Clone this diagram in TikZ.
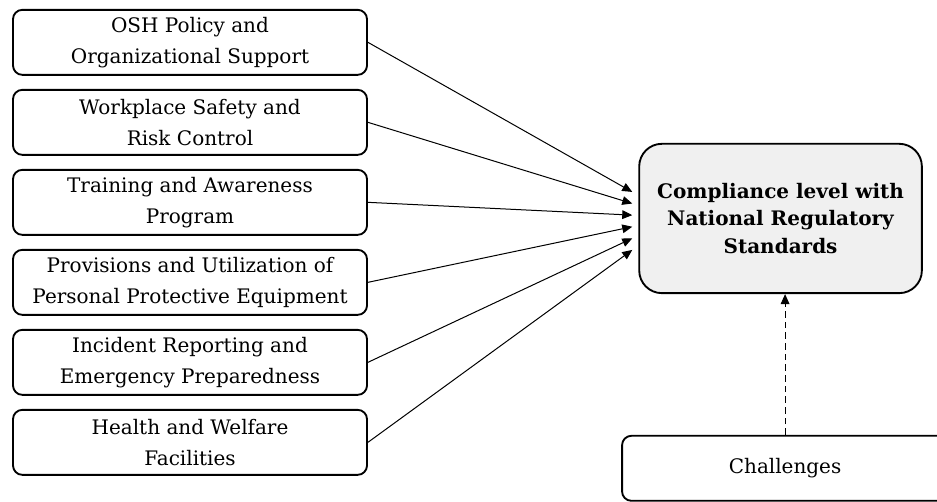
\documentclass[tikz,border=0pt]{standalone}
\usepackage{fontspec}
\setmainfont{DejaVu Serif}
\usepackage{tikz}
\usetikzlibrary{shapes,arrows,positioning,calc,arrows.meta}

\begin{document}
\begin{tikzpicture}[node distance=9.85pt, auto,
    factor/.style={rectangle, draw, line width=1.4pt, rounded corners=7pt, minimum width=265.5pt, minimum height=48.75pt, align=center, font=\fontsize{15}{23}\selectfont},
    outcome/.style={rectangle, draw, line width=1.4pt, rounded corners=17pt, fill=gray!12, minimum width=212pt, minimum height=112pt, align=center, font=\bfseries\fontsize{15}{20.5}\selectfont},
    link/.style={-{Triangle[length=7.5pt,width=6.5pt]}, line width=0.75pt}]

    \useasboundingbox (0,0) rectangle (702.75pt,375.75pt);

    \node[factor] (f1) at (142.5pt,344pt) {OSH Policy and\\Organizational Support};
    \node[factor, below=of f1] (f2) {Workplace Safety and\\Risk Control};
    \node[factor, below=of f2] (f3) {Training and Awareness\\Program};
    \node[factor, below=of f3] (f4) {Provisions and Utilization of\\Personal Protective Equipment};
    \node[factor, below=of f4] (f5) {Incident Reporting and\\Emergency Preparedness};
    \node[factor, below=of f5] (f6) {Health and Welfare\\Facilities};

    \node[outcome] (comp) at (585.4pt,211.9pt) {Compliance level with\\National Regulatory\\Standards};
    \node[factor, minimum width=244.5pt, below=105.6pt of comp, xshift=3.4pt] (chall) {Challenges};

    \foreach \i in {1,...,6}
        \draw[link] (f\i.east) -- ($(comp.west)+(-4.5pt,{28.6pt-8.7pt*\i})$);
    \draw[link, dash pattern=on 5pt off 3pt] (chall.north) -- (chall.north |- comp.south);
\end{tikzpicture}
\end{document}
